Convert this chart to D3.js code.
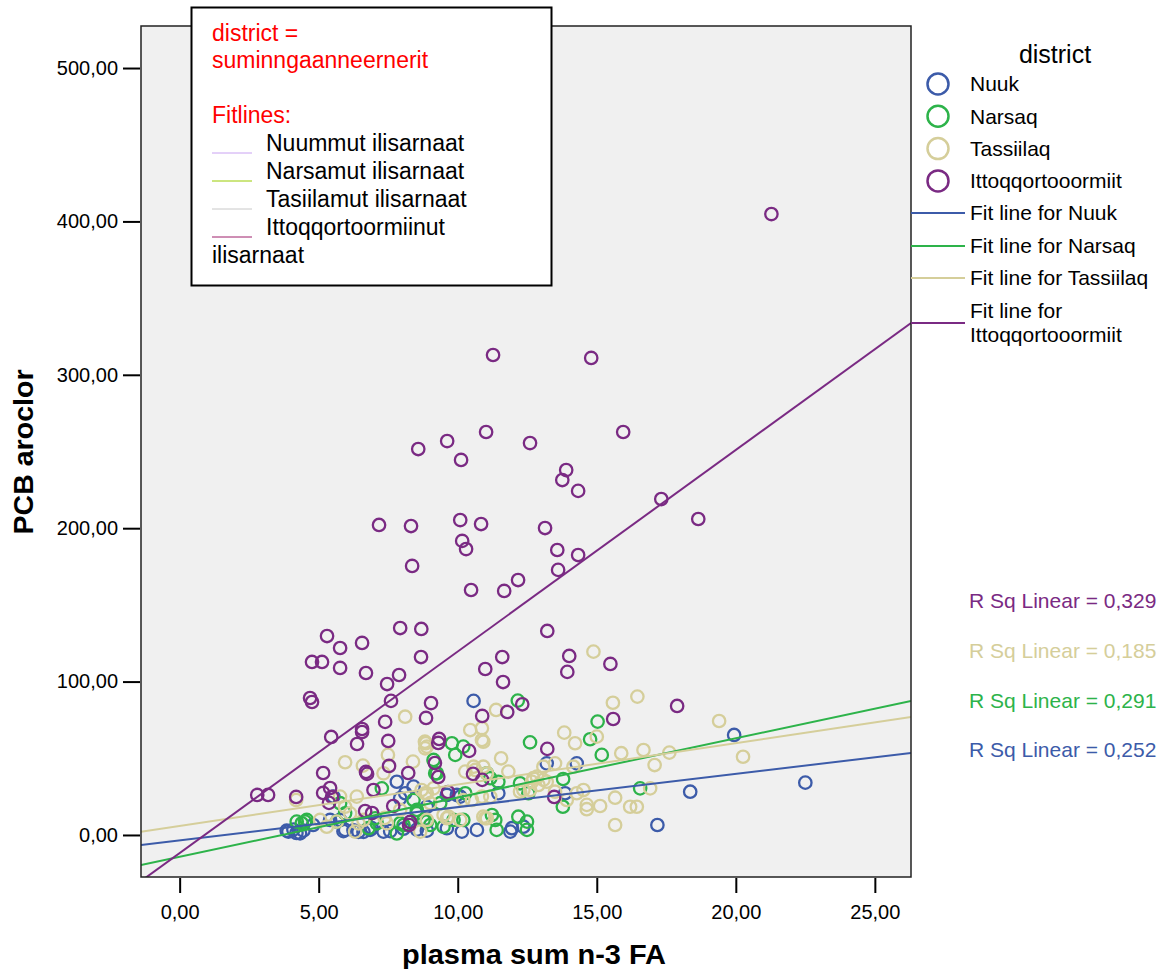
<!DOCTYPE html>
<html>
<head>
<meta charset="utf-8">
<script src="https://cdn.jsdelivr.net/npm/d3@7"></script>
<style>
  body { margin: 0; background: #fff; }
  text { font-family: "Liberation Sans", Arial, sans-serif; }
</style>
</head>
<body>
<div class="container"></div>
<script>
// data: [plasma sum n-3 FA, PCB aroclor]
const districts = ["Nuuk", "Narsaq", "Tassiilaq", "Ittoqqortooormiit"];
const colors = ["#3C5BA9", "#2DB34A", "#D5CE9A", "#7A2A83"];

const nuukPts = [[19.94,65.2],[22.5,34.1],[18.36,28.2],[17.18,6.5],[10.57,87.4],[13.2,46.7],[14.28,46.7],
  [13.86,27.2],[11.46,27.2],[10.09,25],[9.61,4.4],[10.15,2.2],[10.69,3.3],[11.95,4.4],[11.89,2.2],[12.36,5.4],
  [9.61,26.1],[8.89,18.4],[3.91,2.2],[4.33,1.1],[5.53,25],[7.81,34.7],[8.11,27.2],[8.41,31.5],[5.89,2.5],
  [6.25,3.0],[6.61,2.0],[6.85,3.3],[7.33,2.2],[8.05,4.1],[8.53,3.5],[8.89,2.8],[9.97,26.1],[5.41,9.8],[4.8,6.5],
  [7.93,23.9],[4.09,3.5],[4.45,2.8],[5.95,3.3],[6.43,2.0],[6.91,4.4],[7.57,2.5],[3.85,2.8],[4.2,1.3],[5.77,9.8]];

const narsaqPts = [[12.16,87.6],[15.03,73.9],[14.76,62.4],[15.18,52.2],[12.6,60.4],[9.79,59.8],[10.2,57.6],
  [9.91,52.2],[16.56,30.4],[13.78,18.4],[12.24,33.7],[12.54,27.2],[11.17,37],[11.46,34.7],[9.37,20.7],[9.85,9.8],
  [10.2,9.8],[11.23,13],[11.35,9.8],[11.4,3.3],[12.18,11.9],[12.49,8.7],[12.49,3.3],[9.19,40.2],[9.13,48.9],
  [9.25,40.2],[7.27,30.4],[4.39,7.6],[4.51,8.7],[5.77,20.7],[5.95,14.1],[8.53,14.1],[8.89,8.7],[9.49,5.4],
  [7.81,1.0],[11.05,40.2],[10.27,27.2],[8.41,22.8],[7.09,7.6],[8.05,6.5],[9.01,6.5],[4.21,8.7],[4.57,9.8],
  [7.03,10.9],[6.79,4.4],[8.53,16.3],[8.77,9.8],[7.93,7.6],[5.65,8.7],[13.79,36.5]];

const tassiilaqPts = [[14.88,119.5],[15.58,86.2],[16.46,90.2],[13.83,66.7],[14.22,59.8],[15.0,64.1],[15.88,53.3],
  [16.68,55.4],[17.61,53.7],[17.08,45.6],[16.92,30.4],[15.66,24.3],[16.2,18.4],[16.44,18.4],[15.12,18.9],
  [14.64,19.6],[14.64,16.8],[15.66,6.5],[14.52,29.3],[14.28,27.2],[13.5,46.7],[13.5,28.2],[14.16,44.5],
  [13.08,44.5],[10.45,68.4],[10.87,69.6],[10.92,60.8],[10.87,61.9],[11.38,81.5],[11.56,50],[11.82,41.3],
  [12.85,38],[13.08,35.9],[12.67,34.7],[10.57,44.5],[10.92,44.5],[10.27,41.3],[12.36,29.3],[9.61,10.9],
  [10.99,10.9],[19.4,74.3],[20.26,51],[8.89,57.6],[8.82,60.8],[10.63,42.4],[11.05,40.2],[12.72,37],[12.9,32.6],
  [13.2,34.7],[12.24,28.2],[12.6,29.3],[13.92,22.8],[8.89,27.2],[9.01,20.7],[10.2,22.8],[10.51,22.8],[10.87,25],
  [11.17,25],[10.92,11.9],[11.05,10.9],[9.67,11.9],[8.89,9.8],[8.11,77.1],[5.95,47.4],[6.59,45.2],[7.49,52.2],
  [8.39,47.8],[8.85,59.8],[8.83,56.5],[7.33,40.2],[4.19,22.8],[5.95,18.4],[6.37,25],[6.13,14.1],[6.61,9.8],
  [5.65,8.7],[5.05,9.8],[5.29,5.4],[6.31,2.2],[7.45,7.6],[7.93,16.3],[8.83,27.2],[9.13,30.4],[8.65,2.2],
  [9.49,13],[10.09,9.8],[5.77,25],[6.43,7.6],[7.37,11.1],[8.7,29.3]];

const ittoqPts = [[21.28,404.8],[11.27,312.9],[14.8,311.0],[8.58,251.6],[9.62,256.8],[11.02,262.7],[12.6,255.5],
  [10.12,244.5],[15.95,262.7],[13.9,237.9],[13.76,231.4],[14.33,224.3],[17.32,219.0],[18.65,206.0],[7.17,202.1],
  [8.32,201.4],[10.09,205.3],[10.84,202.7],[13.14,200.1],[10.16,191.7],[10.3,186.4],[13.58,185.8],[14.33,182.5],
  [8.36,175.4],[13.61,172.8],[12.17,166.2],[11.67,159.1],[10.48,159.7],[13.22,133.0],[7.93,134.9],[8.69,134.3],
  [5.3,129.7],[5.77,121.9],[6.56,125.2],[14.01,116.7],[11.6,116.0],[8.68,116.0],[5.77,108.9],[5.12,112.8],
  [4.76,112.8],[13.94,106.3],[15.49,111.5],[6.7,105.6],[7.89,104.3],[7.46,98.4],[10.99,108.2],[11.63,99.7],
  [4.69,89.3],[4.76,86.7],[7.6,87.4],[9.04,86.0],[8.86,76.3],[10.88,77.6],[7.39,73.7],[6.56,69.1],[6.56,67.1],
  [12.32,85.2],[11.78,80.2],[17.89,84.1],[15.59,75.6],[5.45,63.9],[7.5,61.3],[9.33,62.6],[9.3,60.0],[6.38,59.3],
  [13.22,56.1],[10.41,54.8],[6.7,41.1],[6.74,39.8],[5.16,40.4],[7.53,45.0],[8.22,40.4],[9.18,46.9],[9.3,37.8],
  [10.55,39.8],[10.88,35.9],[9.65,28.0],[2.79,26.1],[3.18,26.1],[4.19,24.8],[5.16,27.4],[5.41,30.6],[5.48,24.8],
  [5.37,20.9],[6.67,15.6],[6.92,14.3],[7.68,18.9],[8.29,8.5],[8.25,6.5],[13.47,24.8],[6.97,29.3]];

const points = [nuukPts, narsaqPts, tassiilaqPts, ittoqPts];
// fit lines (intercept, slope)
const fitIntercepts = [-3.5, -14.2, 5.9, -11.8];
const fitSlopes = [2.166, 3.863, 2.70, 13.14];
const rSq = ["0,252", "0,291", "0,185", "0,329"];
const xTicks = [0, 5, 10, 15, 20, 25];
const yTicks = [0, 100, 200, 300, 400, 500];
const boxLines = ["Nuummut ilisarnaat", "Narsamut ilisarnaat", "Tasiilamut ilisarnaat", "Ittoqqortoormiinut"];
const boxColors = ["#C9A2F2", "#99CC00", "#C8C8C8", "#9E1F6B"];

const width = 1166, height = 969;
const pLeft = 141, pRight = 911, pTop = 26, pBottom = 877;
const svg = d3.select(".container")
              .append("svg")
              .attr("width", width)
              .attr("height", height);

const x = d3.scaleLinear().domain([-1.39, 26.3]).range([pLeft, pRight]);
const y = d3.scaleLinear().domain([-27.4, 527.4]).range([pBottom, pTop]);
const fmt = d => d3.format(".2f")(d).replace(".", ",");

svg.append("rect")
   .attr("x", pLeft).attr("y", pTop)
   .attr("width", pRight - pLeft).attr("height", pBottom - pTop)
   .attr("fill", "#F0F0F0");

svg.append("clipPath").attr("id", "plot")
   .append("rect")
   .attr("x", pLeft).attr("y", pTop)
   .attr("width", pRight - pLeft).attr("height", pBottom - pTop);

// axes
const yAxis = svg.append("g")
                 .attr("transform", `translate(${pLeft - 1},0)`)
                 .call(d3.axisLeft(y).tickValues(yTicks).tickFormat(fmt).tickSize(17).tickPadding(5));
const xAxis = svg.append("g")
                 .attr("transform", `translate(0,${pBottom + 1})`)
                 .call(d3.axisBottom(x).tickValues(xTicks).tickFormat(fmt).tickSize(15).tickPadding(12));
[xAxis, yAxis].forEach(a => {
    a.select(".domain").remove();
    a.selectAll(".tick line").attr("stroke", "#000").attr("stroke-width", 2);
    a.selectAll(".tick text").attr("font-size", 20).attr("fill", "#000")
     .attr("font-family", "Liberation Sans, Arial, sans-serif");
});

// points
const pts = svg.append("g").attr("clip-path", "url(#plot)");
points.forEach((arr, i) => {
    pts.selectAll(null)
       .data(arr)
       .join("circle")
       .attr("cx", d => x(d[0]))
       .attr("cy", d => y(d[1]))
       .attr("r", 6.2)
       .attr("fill", "none")
       .attr("stroke", colors[i])
       .attr("stroke-width", 2.3);
});

// fit lines
const fits = svg.append("g").attr("clip-path", "url(#plot)");
const xd = x.domain();
districts.forEach((name, i) => {
    fits.append("line")
        .attr("x1", x(xd[0])).attr("y1", y(fitIntercepts[i] + fitSlopes[i] * xd[0]))
        .attr("x2", x(xd[1])).attr("y2", y(fitIntercepts[i] + fitSlopes[i] * xd[1]))
        .attr("stroke", colors[i])
        .attr("stroke-width", 2);
});

// frame
svg.append("rect")
   .attr("x", pLeft).attr("y", pTop)
   .attr("width", pRight - pLeft).attr("height", pBottom - pTop)
   .attr("fill", "none").attr("stroke", "#222").attr("stroke-width", 1.5);

// axis titles
svg.append("text")
   .attr("x", 534).attr("y", 964)
   .attr("text-anchor", "middle")
   .attr("font-size", 28).attr("font-weight", "bold")
   .attr("textLength", 264).attr("lengthAdjust", "spacingAndGlyphs")
   .text("plasma sum n-3 FA");
svg.append("text")
   .attr("transform", "translate(33,452) rotate(-90)")
   .attr("text-anchor", "middle")
   .attr("font-size", 28).attr("font-weight", "bold")
   .attr("textLength", 165).attr("lengthAdjust", "spacingAndGlyphs")
   .text("PCB aroclor");

// annotation box
svg.append("rect")
   .attr("x", 191.5).attr("y", 7.5).attr("width", 360).attr("height", 278)
   .attr("fill", "#fff").attr("stroke", "#000").attr("stroke-width", 2);
const box = svg.append("g").attr("font-size", 23);
[["district =", 33], ["suminngaanneernerit", 60], ["Fitlines:", 115]].forEach(t => {
    box.append("text").attr("x", 212).attr("y", t[1]).attr("dy", "0.35em")
       .attr("fill", "#FF0000").text(t[0]);
});
boxLines.forEach((t, i) => {
    const yy = 143 + i * 28;
    box.append("line").attr("x1", 212).attr("x2", 252)
       .attr("y1", yy + 10).attr("y2", yy + 10)
       .attr("stroke", boxColors[i]).attr("stroke-width", 1);
    box.append("text").attr("x", 266).attr("y", yy).attr("dy", "0.35em").text(t);
});
box.append("text").attr("x", 212).attr("y", 255).attr("dy", "0.35em").text("ilisarnaat");

// right legend
const leg = svg.append("g").attr("font-size", 21);
leg.append("text").attr("x", 1055).attr("y", 54).attr("dy", "0.35em")
   .attr("text-anchor", "middle").attr("font-size", 25).text("district");
districts.forEach((name, i) => {
    const yy = 84 + i * 32.3;
    leg.append("circle").attr("cx", 938).attr("cy", yy).attr("r", 10.5)
       .attr("fill", "none").attr("stroke", colors[i]).attr("stroke-width", 2.5);
    leg.append("text").attr("x", 970).attr("y", yy).attr("dy", "0.35em").text(name);
});
const fitY = [213, 246, 278, 323];
districts.forEach((name, i) => {
    leg.append("line").attr("x1", pRight).attr("x2", 965)
       .attr("y1", fitY[i]).attr("y2", fitY[i])
       .attr("stroke", colors[i]).attr("stroke-width", 2);
    if (i < 3) {
        leg.append("text").attr("x", 970).attr("y", fitY[i]).attr("dy", "0.35em")
           .text("Fit line for " + name);
    } else {
        leg.append("text").attr("x", 970).attr("y", 311).attr("dy", "0.35em").text("Fit line for");
        leg.append("text").attr("x", 970).attr("y", 335).attr("dy", "0.35em").text(name);
    }
});

// R squared labels (bottom to top: Nuuk, Narsaq, Tassiilaq, Ittoqqortooormiit)
const rY = [750, 700.7, 650.7, 600.7];
rSq.forEach((r, i) => {
    leg.append("text").attr("x", 969).attr("y", rY[i]).attr("dy", "0.35em")
       .attr("fill", colors[i]).text("R Sq Linear = " + r);
});
</script>
</body>
</html>
